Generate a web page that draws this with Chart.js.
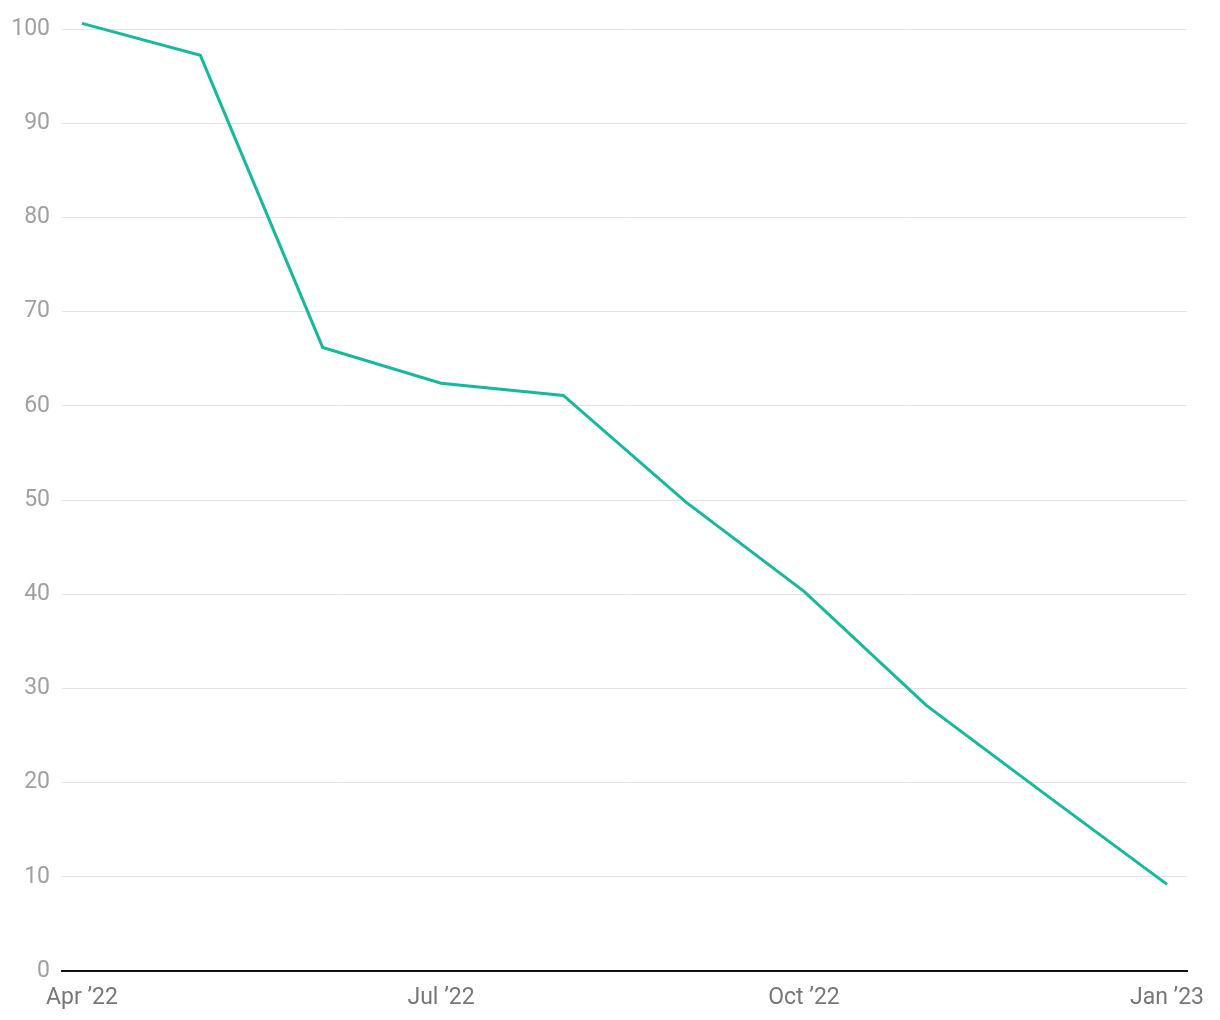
<!DOCTYPE html>
<html>
<head>
<meta charset="utf-8">
<script src="https://cdn.jsdelivr.net/npm/chart.js@4/dist/chart.umd.min.js"></script>
<style>
  html, body { margin: 0; padding: 0; background: #fff; }
  #wrap { width: 1220px; height: 1020px; position: relative; }
</style>
</head>
<body>
<div id="wrap"><canvas id="c"></canvas></div>
<script>
// Data
const months = ["2022-04-01","2022-05-01","2022-06-01","2022-07-01","2022-08-01","2022-09-01","2022-10-01","2022-11-01","2022-12-01","2023-01-01"];
const values = [100.6, 97.2, 66.2, 62.4, 61.1, 49.8, 40.3, 28.2, 18.8, 9.2];
const tickDates = ["2022-04-01","2022-07-01","2022-10-01","2023-01-01"];
const tickLabels = ["Apr \u201922","Jul \u201922","Oct \u201922","Jan \u201923"];
const yTicks = [0,10,20,30,40,50,60,70,80,90,100];

const DAY = 86400000;
const t0 = Date.parse(months[0]);
const dayOf = s => Math.round((Date.parse(s) - t0) / DAY);
const points = months.map((m, i) => ({ x: dayOf(m), y: values[i] }));
const tickDays = tickDates.map(dayOf);
const lastDay = dayOf(months[months.length - 1]);

new Chart(document.getElementById('c'), {
  type: 'line',
  data: {
    datasets: [{
      data: points,
      borderColor: '#15b99c',
      borderWidth: 3,
      pointRadius: 0,
      pointHoverRadius: 0,
      tension: 0,
      fill: false,
      clip: false
    }]
  },
  options: {
    responsive: true,
    maintainAspectRatio: false,
    animation: false,
    layout: { padding: { top: 29, right: 33, left: 0, bottom: 0 } },
    plugins: { legend: { display: false }, tooltip: { enabled: false } },
    scales: {
      x: {
        type: 'linear',
        min: -5.07,
        max: lastDay + 5.07,
        afterBuildTicks: s => { s.ticks = tickDays.map(v => ({ value: v })); },
        afterFit: s => { s.height = 49; },
        grid: { display: false, drawTicks: false },
        border: { display: true, color: '#111', width: 2 },
        ticks: {
          autoSkip: false,
          maxRotation: 0,
          padding: 13,
          color: '#777',
          font: { family: 'Roboto', size: 23 },
          callback: (v) => { const i = tickDays.indexOf(v); return i >= 0 ? tickLabels[i] : ''; }
        }
      },
      y: {
        min: 0,
        max: 100,
        afterBuildTicks: s => { s.ticks = yTicks.map(v => ({ value: v })); },
        afterFit: s => { s.width = 62; },
        grid: { color: '#e3e3e3', lineWidth: 1, drawTicks: false },
        border: { display: false },
        ticks: {
          padding: 12,
          color: '#a0a0a0',
          font: { family: 'Roboto', size: 23 }
        }
      }
    }
  }
});
</script>
</body>
</html>
